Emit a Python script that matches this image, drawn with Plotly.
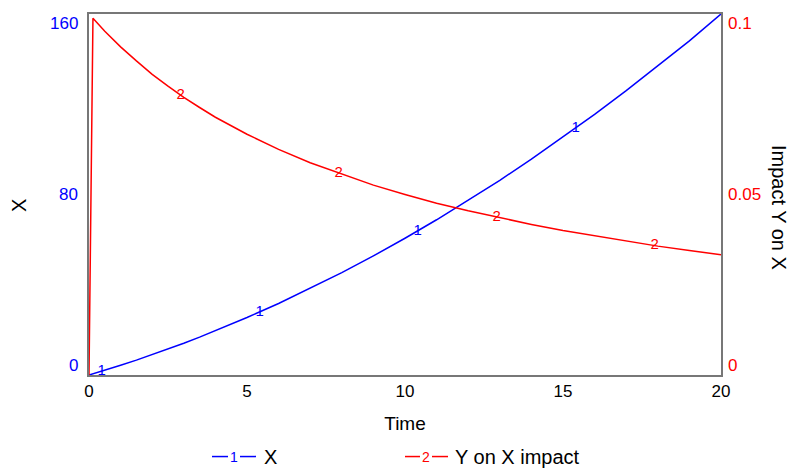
import numpy as np
import plotly.graph_objects as go

# ---- data ----
time = [0, 0.125, 0.5, 1, 1.5, 2, 2.5, 3, 3.5, 4, 5, 6, 7, 8, 9, 10, 11, 12, 13, 14, 15,
        16, 17, 18, 19, 20]
x_vals = [0, 0.5, 2.1, 4.3, 6.6, 9.0, 11.5, 14.1, 16.8, 19.6, 25.5, 31.7, 38.4, 45.4, 52.8,
          60.6, 68.8, 77.4, 86.3, 95.7, 105.4, 115.5, 126.0, 136.9, 148.1, 160.0]
impact_vals = [0, 0.0988, 0.0952, 0.0909, 0.087, 0.0833, 0.08, 0.0769, 0.0741, 0.0714,
               0.0667, 0.0625, 0.0588, 0.0556, 0.0526, 0.05, 0.0476, 0.0455, 0.0435, 0.0417,
               0.04, 0.0385, 0.037, 0.0357, 0.0345, 0.0333]
marker1_times = [0.4, 5.4, 10.4, 15.4]
marker2_times = [2.9, 7.9, 12.9, 17.9]
left_ticks = [0, 80, 160]
right_ticks = [0, 0.05, 0.1]
right_tick_text = ["0", "0.05", "0.1"]
x_ticks = [0, 5, 10, 15, 20]

BLUE = "#0000FF"
RED = "#FF0000"
FONT = "Liberation Sans, Arial, sans-serif"

fig = go.Figure()
fig.add_trace(go.Scatter(x=time, y=x_vals, mode="lines", line=dict(color=BLUE, width=1.5),
                         name="X", yaxis="y", hoverinfo="skip"))
fig.add_trace(go.Scatter(x=time, y=impact_vals, mode="lines", line=dict(color=RED, width=1.5),
                         name="Y on X impact", yaxis="y2", hoverinfo="skip"))
# curve number markers
fig.add_trace(go.Scatter(x=marker1_times, y=np.interp(marker1_times, time, x_vals),
                         mode="text", text=["1"] * len(marker1_times),
                         textfont=dict(color=BLUE, size=15, family=FONT), yaxis="y",
                         hoverinfo="skip"))
fig.add_trace(go.Scatter(x=marker2_times, y=np.interp(marker2_times, time, impact_vals),
                         mode="text", text=["2"] * len(marker2_times),
                         textfont=dict(color=RED, size=15, family=FONT), yaxis="y2",
                         hoverinfo="skip"))


def px_x(p):
    return (p - 89) / 632.0


def px_y(p):
    return (375 - p) / 363.0


annotations = []
# left tick labels (pulled inward at ends)
shift_map = {0: 10, 80: 0, 160: -9}
for v in left_ticks:
    annotations.append(dict(x=0, xref="paper", y=v, yref="y", text=str(v), showarrow=False,
                            xanchor="right", yanchor="middle", xshift=-9, yshift=shift_map[v],
                            font=dict(color=BLUE, size=17, family=FONT)))
rshift = [10, 0, -9]
for v, t, s in zip(right_ticks, right_tick_text, rshift):
    annotations.append(dict(x=1, xref="paper", y=v, yref="y2", text=t, showarrow=False,
                            xanchor="left", yanchor="middle", xshift=5, yshift=s,
                            font=dict(color=RED, size=17, family=FONT)))
# axis titles
annotations.append(dict(x=px_x(19), xref="paper", y=px_y(205), yref="paper", text="X",
                        showarrow=False, xanchor="center", yanchor="middle",
                        textangle=-90, font=dict(color="black", size=20, family=FONT)))
annotations.append(dict(x=px_x(779), xref="paper", y=px_y(206), yref="paper",
                        text="Impact Y on X", showarrow=False, textangle=90,
                        xanchor="center", yanchor="middle",
                        font=dict(color="black", size=20, family=FONT)))

# custom legend
shapes = []
ly = px_y(457)
for (a, b) in [(212, 228), (240, 256)]:
    shapes.append(dict(type="line", xref="paper", yref="paper", x0=px_x(a), x1=px_x(b),
                       y0=ly, y1=ly, line=dict(color=BLUE, width=1.5)))
for (a, b) in [(405, 420), (432, 448)]:
    shapes.append(dict(type="line", xref="paper", yref="paper", x0=px_x(a), x1=px_x(b),
                       y0=ly, y1=ly, line=dict(color=RED, width=1.5)))
annotations.append(dict(x=px_x(234), xref="paper", y=ly, yref="paper", text="1", showarrow=False,
                        xanchor="center", yanchor="middle",
                        font=dict(color=BLUE, size=14, family=FONT)))
annotations.append(dict(x=px_x(262), xref="paper", y=ly, yref="paper", text="X", showarrow=False,
                        xanchor="left", yanchor="middle",
                        font=dict(color="black", size=20, family=FONT)))
annotations.append(dict(x=px_x(426), xref="paper", y=ly, yref="paper", text="2", showarrow=False,
                        xanchor="center", yanchor="middle",
                        font=dict(color=RED, size=14, family=FONT)))
annotations.append(dict(x=px_x(453), xref="paper", y=ly, yref="paper", text="Y on X impact",
                        showarrow=False, xanchor="left", yanchor="middle",
                        font=dict(color="black", size=20, family=FONT)))

fig.update_layout(
    width=790, height=469,
    margin=dict(l=89, r=69, t=12, b=94),
    paper_bgcolor="white", plot_bgcolor="white",
    showlegend=False,
    font=dict(family=FONT, color="black"),
    xaxis=dict(range=[0, 20], tickvals=x_ticks, showgrid=False, zeroline=False,
               showline=True, linecolor="#777777", linewidth=1.5, mirror=True,
               ticks="", tickfont=dict(size=17, color="black"),
               title=dict(text="Time", font=dict(size=19, color="black"), standoff=17)),
    yaxis=dict(range=[0, 160], showgrid=False, zeroline=False, showticklabels=False,
               showline=True, linecolor="#777777", linewidth=1.5, mirror=True, ticks=""),
    yaxis2=dict(range=[0, 0.1], overlaying="y", side="right", showgrid=False, zeroline=False,
                showticklabels=False, showline=False, ticks=""),
    annotations=annotations,
    shapes=shapes,
)

fig.write_html("out.html")
